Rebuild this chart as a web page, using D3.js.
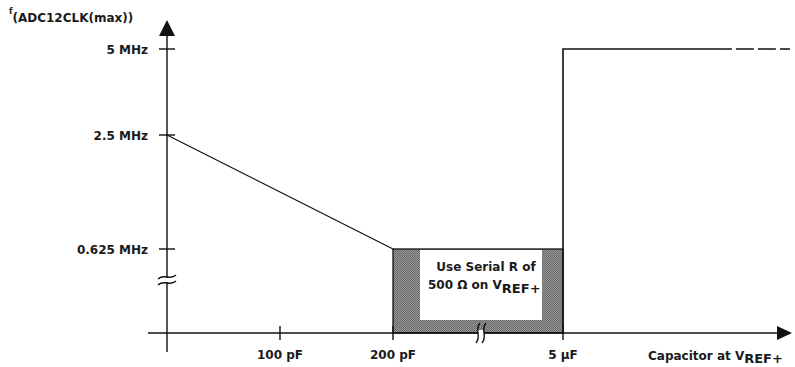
<!DOCTYPE html>
<html>
<head>
<meta charset="utf-8">
<script src="https://d3js.org/d3.v7.min.js"></script>
<style>
  body { margin: 0; background: #fff; }
  svg text { font-family: "DejaVu Sans", Verdana, sans-serif; font-weight: bold; font-size: 12px; fill: #1a1a1a; }
</style>
</head>
<body>
<svg width="795" height="367"></svg>
<script>
// values: capacitance in pF, frequency in MHz
var xTicks = [100, 200, 5e6];
var xTickLabels = ["100 pF", "200 pF", "5 \u00b5F"];
var yTicks = [0.625, 2.5, 5];
var yTickLabels = ["0.625 MHz", "2.5 MHz", "5 MHz"];

var slopeLine = [[0, 2.5], [200, 0.625]];      // falling part
var stepLine = [[5e6, 0], [5e6, 5], [8.5e6, 5]]; // jump to 5 MHz
var dashedLine = [[8.5e6, 5], [1e7, 5]];
var serialBox = { x0: 200, x1: 5e6, y0: 0, y1: 0.625 };

var svg = d3.select("svg");

// broken axes -> piecewise scales
var x = d3.scaleLinear().domain([0, 200, 5e6, 1e7]).range([167, 393, 563, 790]);
var y = d3.scaleLinear().domain([0, 0.625, 2.5, 5]).range([333, 249, 135, 49]);

// hatched fill
var defs = svg.append("defs");
var pat = defs.append("pattern").attr("id", "dots")
    .attr("width", 2).attr("height", 2).attr("patternUnits", "userSpaceOnUse");
pat.append("rect").attr("width", 2).attr("height", 2).attr("fill", "#9a9a9a");
pat.append("rect").attr("width", 1).attr("height", 1).attr("fill", "#666");
pat.append("rect").attr("x", 1).attr("y", 1).attr("width", 1).attr("height", 1).attr("fill", "#666");

// shaded region with white text area
svg.append("rect")
    .attr("x", x(serialBox.x0)).attr("y", y(serialBox.y1))
    .attr("width", x(serialBox.x1) - x(serialBox.x0))
    .attr("height", y(serialBox.y0) - y(serialBox.y1))
    .attr("fill", "url(#dots)").attr("stroke", "#111").attr("stroke-width", 1.3);
svg.append("rect")
    .attr("x", x(serialBox.x0) + 27).attr("y", y(serialBox.y1) + 1)
    .attr("width", x(serialBox.x1) - x(serialBox.x0) - 48)
    .attr("height", y(serialBox.y0) - y(serialBox.y1) - 14)
    .attr("fill", "#fff");

svg.append("text").attr("x", 486).attr("y", 271).attr("text-anchor", "middle")
    .text("Use Serial R of");
var t2 = svg.append("text").attr("x", 428).attr("y", 289);
t2.append("tspan").text("500 \u03a9 on V");
t2.append("tspan").attr("dy", 4).attr("font-size", "13px").text("REF+");

// axes
var axes = svg.append("g").attr("stroke", "#111").attr("stroke-width", 1.4).attr("fill", "none");
axes.append("line").attr("x1", x(0)).attr("x2", x(0)).attr("y1", 352).attr("y2", 32);
axes.append("line").attr("x1", 148).attr("x2", 780).attr("y1", y(0)).attr("y2", y(0));
svg.append("path").attr("d", "M" + x(0) + ",20 L159,36 L175,36 Z").attr("fill", "#111");
svg.append("path").attr("d", "M792," + y(0) + " L777," + (y(0) - 7) + " L777," + (y(0) + 7) + " Z").attr("fill", "#111");

// ticks
axes.selectAll(".yt").data(yTicks).enter().append("line")
    .attr("x1", x(0) - 8).attr("x2", x(0) + 8)
    .attr("y1", function(d) { return y(d); }).attr("y2", function(d) { return y(d); });
axes.selectAll(".xt").data(xTicks).enter().append("line")
    .attr("y1", y(0) - 7).attr("y2", y(0) + 7)
    .attr("x1", function(d) { return x(d); }).attr("x2", function(d) { return x(d); });

svg.selectAll(".ylab").data(yTicks).enter().append("text")
    .attr("x", 148).attr("y", function(d) { return y(d) + 5; })
    .attr("text-anchor", "end")
    .text(function(d, i) { return yTickLabels[i]; });
svg.selectAll(".xlab").data(xTicks).enter().append("text")
    .attr("x", function(d) { return x(d); }).attr("y", 359)
    .attr("text-anchor", "middle")
    .text(function(d, i) { return xTickLabels[i]; });

// axis titles
var yt = svg.append("text").attr("x", 9).attr("y", 22).attr("font-size", "12.5px");
yt.append("tspan").attr("dy", -8).attr("font-size", "8px").text("f");
yt.append("tspan").attr("dy", 8).text("(ADC12CLK(max))");
var xt = svg.append("text").attr("x", 648).attr("y", 360);
xt.append("tspan").text("Capacitor at V");
xt.append("tspan").attr("dy", 3).attr("font-size", "13px").text("REF+");

// curves
var line = d3.line().x(function(d) { return x(d[0]); }).y(function(d) { return y(d[1]); });
svg.append("path").attr("d", line(slopeLine)).attr("fill", "none").attr("stroke", "#111").attr("stroke-width", 1.2);
svg.append("path").attr("d", line(stepLine)).attr("fill", "none").attr("stroke", "#111").attr("stroke-width", 1.6);
svg.append("path").attr("d", line(dashedLine)).attr("fill", "none").attr("stroke", "#111").attr("stroke-width", 1.6)
    .attr("stroke-dasharray", "18,4").attr("stroke-dashoffset", -14);

// axis break marks
var yb = y(0) - 53;
svg.append("rect").attr("x", x(0) - 3).attr("y", yb - 2).attr("width", 6).attr("height", 4).attr("fill", "#fff");
[-3, 3].forEach(function(o) {
  svg.append("path")
    .attr("d", "M" + (x(0) - 9) + "," + (yb + o + 2) + " C" + (x(0) - 3) + "," + (yb + o - 4) + " " + (x(0) + 3) + "," + (yb + o + 4) + " " + (x(0) + 9) + "," + (yb + o - 2))
    .attr("fill", "none").attr("stroke", "#111").attr("stroke-width", 1.4);
});
var xb = 481;
svg.append("rect").attr("x", xb - 3).attr("y", y(0) - 3).attr("width", 6).attr("height", 6).attr("fill", "#fff");
[-3, 3].forEach(function(o) {
  svg.append("path")
    .attr("d", "M" + (xb + o + 2) + "," + (y(0) - 10) + " C" + (xb + o - 4) + "," + (y(0) - 3) + " " + (xb + o + 4) + "," + (y(0) + 3) + " " + (xb + o - 2) + "," + (y(0) + 10))
    .attr("fill", "none").attr("stroke", "#111").attr("stroke-width", 1.4);
});
</script>
</body>
</html>
